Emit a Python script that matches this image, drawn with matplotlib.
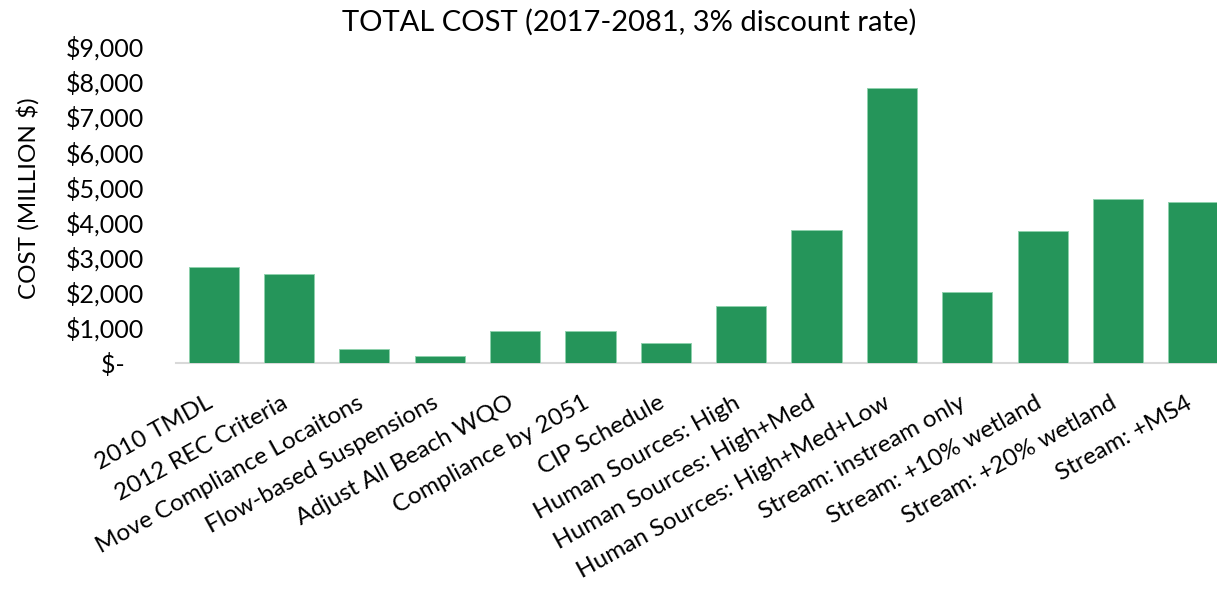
import matplotlib
matplotlib.use("Agg")
import matplotlib.pyplot as plt
from matplotlib.ticker import FuncFormatter, MultipleLocator

categories = [
    "2010 TMDL", "2012 REC Criteria", "Move Compliance Locaitons",
    "Flow-based Suspensions", "Adjust All Beach WQO", "Compliance by 2051",
    "CIP Schedule", "Human Sources: High", "Human Sources: High+Med",
    "Human Sources: High+Med+Low", "Stream: instream only",
    "Stream: +10% wetland", "Stream: +20% wetland", "Stream: +MS4",
]
costs = [2730, 2530, 390, 180, 900, 900, 560, 1615, 3790, 7820, 2015, 3755, 4670, 4570]

title = "TOTAL COST (2017-2081, 3% discount rate)"
ylabel = "COST (MILLION $)"

plt.rcParams['font.family'] = ['Lato', 'DejaVu Sans']

W, H = 1217, 590
fig = plt.figure(figsize=(W / 100, H / 100), dpi=100)
left_px, right_px = 176, 1231
bottom_px, top_px = 362.7, 46.5
ax = fig.add_axes([left_px / W, 1 - bottom_px / H, (right_px - left_px) / W, (bottom_px - top_px) / H])

x = list(range(len(categories)))
ax.bar(x, costs, width=0.665, color='#25955A', edgecolor='#8ED1AC', linewidth=0.7, zorder=3)

ax.set_xlim(-0.5, len(categories) - 0.5)
ax.set_ylim(0, 9000)
ax.yaxis.set_major_locator(MultipleLocator(1000))

def fmt(v, pos):
    if v == 0:
        return "$-   "
    return "${:,.0f}".format(v)

ax.yaxis.set_major_formatter(FuncFormatter(fmt))
ax.tick_params(axis='y', length=0, pad=23, labelsize=18, labelcolor='#000000')
ax.tick_params(axis='x', length=0, pad=32, labelsize=17.5)
ax.set_xticks(x)
ax.set_xticklabels(categories, rotation=29, ha='right', va='baseline', rotation_mode='anchor')

for s in ['top', 'right', 'left']:
    ax.spines[s].set_visible(False)
ax.spines['bottom'].set_color('#D9D9D9')
ax.spines['bottom'].set_linewidth(1.5)

fig.text(629 / W, 1 - 22 / H, title, ha='center', va='center', fontsize=21)
fig.text(28 / W, 1 - 198 / H, ylabel, ha='center', va='center', rotation=90, fontsize=17.5)

fig.savefig("out.png", dpi=100)
